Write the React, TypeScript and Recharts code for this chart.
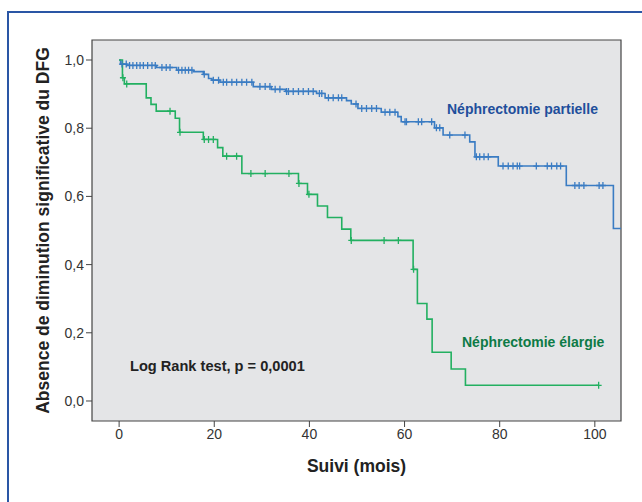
import React from "react";
import {
  ComposedChart,
  Label,
  Line,
  ReferenceArea,
  Scatter,
  XAxis,
  YAxis,
} from "recharts";

// Kaplan-Meier, néphrectomie partielle (temps en mois, survie)
const partielleT = [0, 0.3, 1.6, 7.9, 12.1, 15.6, 17.7, 18.8, 19.5, 21.2, 28.2, 32.0, 35.0, 41.5, 43.3, 47.8, 48.8, 50.2, 55.1, 58.6, 59.3, 66.3, 68.1, 73.7, 74.8, 79.7, 94.0, 103.9, 105.5];
const partielleS = [1.0, 0.988, 0.984, 0.978, 0.97, 0.966, 0.958, 0.946, 0.941, 0.935, 0.922, 0.914, 0.908, 0.902, 0.889, 0.881, 0.871, 0.858, 0.847, 0.834, 0.819, 0.801, 0.78, 0.76, 0.716, 0.689, 0.632, 0.506, 0.506];
const partielleCensures = [
  0.6, 1.5, 2.2, 2.9, 3.7, 4.4, 5.1, 6.0, 6.9, 7.6, 9.0, 9.9, 10.7, 12.5, 13.2, 13.9, 14.6, 15.3, 17.9, 19.8,
  20.9, 21.9, 22.6, 23.7, 24.7, 25.8, 26.8, 27.9, 29.6, 30.7, 31.7, 32.8, 33.8, 35.2, 35.6, 36.6, 37.7, 38.7,
  39.8, 40.8, 42.1, 42.6, 44.0, 45.0, 46.1, 46.8, 49.8, 51.0, 52.0, 53.1, 54.1, 55.9, 56.9, 58.0, 60.1, 60.4,
  62.9, 63.6, 65.7, 66.7, 67.4, 69.5, 72.7, 75.1, 75.8, 76.7, 77.6, 80.7, 81.8, 82.8, 83.7, 84.2, 87.7, 90.0,
  90.9, 92.0, 92.8, 95.8, 96.7, 97.7, 100.9, 101.7,
];

// néphrectomie élargie
const elargieT = [0, 0.7, 1.1, 5.7, 6.7, 7.8, 11.8, 12.7, 17.7, 20.7, 21.8, 25.8, 37.7, 39.6, 41.7, 43.8, 46.8, 48.7, 61.8, 62.7, 64.7, 65.8, 69.8, 72.8, 100.8];
const elargieS = [1.0, 0.948, 0.93, 0.889, 0.87, 0.85, 0.829, 0.788, 0.767, 0.743, 0.718, 0.667, 0.638, 0.606, 0.572, 0.538, 0.504, 0.471, 0.386, 0.286, 0.24, 0.143, 0.094, 0.046, 0.046];
const elargieCensures = [0.8, 1.6, 10.7, 12.8, 17.9, 18.8, 19.8, 22.6, 24.7, 27.7, 30.7, 35.7, 37.8, 39.9, 48.8, 55.7, 58.7, 61.9, 100.8];

const xTicks = [0, 20, 40, 60, 80, 100];
const yTicks = [0, 0.2, 0.4, 0.6, 0.8, 1.0];

const BLEU = "#3a7cc3";
const VERT = "#22b061";
const FONT = "'Liberation Sans', Arial, sans-serif";

const toPoints = (t: number[], s: number[]) => t.map((v, i) => ({ t: v, s: s[i] }));

// valeur de la courbe au temps de censure (lecture de la marche)
const censorPoints = (times: number[], t: number[], s: number[]) =>
  times.map((c) => {
    let v = s[0];
    for (let i = 0; i < t.length; i++) if (t[i] <= c) v = s[i];
    return { t: c, s: v };
  });

const partielle = toPoints(partielleT, partielleS);
const elargie = toPoints(elargieT, elargieS);
const partielleC = censorPoints(partielleCensures, partielleT, partielleS);
const elargieC = censorPoints(elargieCensures, elargieT, elargieS);

const plus = (color: string) => (p: any) => (
  <path d={`M${p.cx - 3},${p.cy}h6M${p.cx},${p.cy - 3.5}v7`} stroke={color} strokeWidth={1.3} fill="none" />
);

export default function App() {
  const tick = { fontSize: 14, fill: "#333", fontFamily: FONT };
  return (
    <div style={{ position: "absolute", left: 0, top: 0, width: 642, height: 502, background: "#fff", overflow: "hidden" }}>
      <div
        style={{
          position: "absolute",
          left: 7,
          top: 11,
          width: 700,
          height: 600,
          borderTop: "2px solid #2a56a5",
          borderLeft: "2px solid #2a56a5",
        }}
      />
      <ComposedChart
        width={642}
        height={502}
        margin={{ top: 40, right: 21, bottom: 21, left: 0 }}
        style={{ position: "absolute", left: 0, top: 0 }}
      >
        <XAxis
          dataKey="t"
          type="number"
          domain={[-5.7, 105.5]}
          ticks={xTicks}
          allowDataOverflow
          height={60}
          tick={tick}
          tickSize={6}
          tickLine={{ stroke: "#444" }}
          axisLine={false}
        >
          <Label value="Suivi (mois)" position="center" dy={15} style={{ fontSize: 17.5, fontWeight: "bold", fill: "#222", fontFamily: FONT }} />
        </XAxis>
        <YAxis
          dataKey="s"
          type="number"
          domain={[-0.0587, 1.0587]}
          ticks={yTicks}
          allowDataOverflow
          width={92}
          tick={tick}
          tickSize={6}
          tickLine={{ stroke: "#444" }}
          axisLine={false}
          tickFormatter={(v: number) => v.toFixed(1).replace(".", ",")}
        >
          <Label
            value="Absence de diminution significative du DFG"
            position="center"
            angle={-90}
            dx={-3}
            style={{ fontSize: 17.5, fontWeight: "bold", fill: "#222", fontFamily: FONT, textAnchor: "middle" }}
          />
        </YAxis>
        <ReferenceArea x1={-5.7} x2={105.5} y1={-0.0587} y2={1.0587} fill="#e4e5e7" fillOpacity={1} stroke="#444" strokeWidth={1.2} />
        <Line data={partielle} dataKey="s" type="stepAfter" stroke={BLEU} strokeWidth={1.6} dot={false} isAnimationActive={false} />
        <Line data={elargie} dataKey="s" type="stepAfter" stroke={VERT} strokeWidth={1.6} dot={false} isAnimationActive={false} />
        <Scatter data={partielleC} dataKey="s" shape={plus(BLEU)} isAnimationActive={false} />
        <Scatter data={elargieC} dataKey="s" shape={plus(VERT)} isAnimationActive={false} />
      </ComposedChart>
      <svg width={642} height={502} style={{ position: "absolute", left: 0, top: 0, pointerEvents: "none" }}>
        <g fontFamily={FONT} fontWeight="bold" fontSize={14}>
          <text x={447} y={114} fill="#1f4f9c">Néphrectomie partielle</text>
          <text x={462} y={347} fill="#0d7a46">Néphrectomie élargie</text>
          <text x={130} y={371} fill="#222" fontSize={14.6}>Log Rank test, p = 0,0001</text>
        </g>
      </svg>
    </div>
  );
}
